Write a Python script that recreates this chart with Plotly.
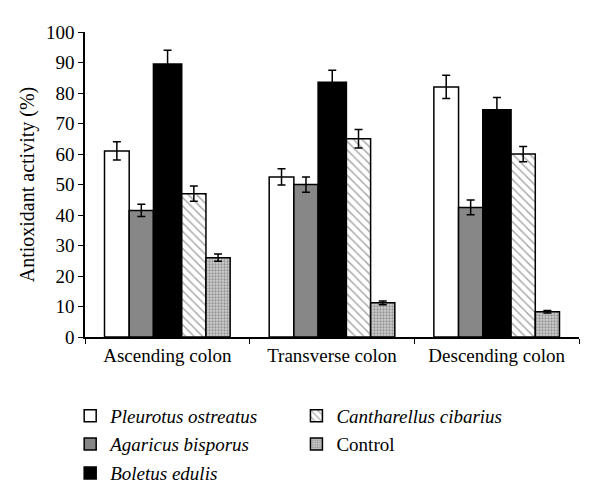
import plotly.graph_objects as go

categories = ["Ascending colon", "Transverse colon", "Descending colon"]
series_names = ["Pleurotus ostreatus", "Agaricus bisporus", "Boletus edulis",
                "Cantharellus cibarius", "Control"]
pleurotus = [61, 52.5, 82]
pleurotus_err = [3, 2.7, 3.8]
agaricus = [41.5, 50, 42.5]
agaricus_err = [2, 2.5, 2.4]
boletus = [89.5, 83.5, 74.5]
boletus_err = [4.5, 4, 4]
cantharellus = [47, 65, 60]
cantharellus_err = [2.5, 3, 2.5]
control = [26, 11.2, 8.3]
control_err = [1.2, 0.6, 0.4]
y_ticks = [0, 10, 20, 30, 40, 50, 60, 70, 80, 90, 100]

values = [pleurotus, agaricus, boletus, cantharellus, control]
errors = [pleurotus_err, agaricus_err, boletus_err, cantharellus_err, control_err]
labels = ["<i>Pleurotus ostreatus</i>", "<i>Agaricus bisporus</i>", "<i>Boletus edulis</i>",
          "<i>Cantharellus cibarius</i>", "Control"]
styles = [
    dict(color="white"),
    dict(color="#878787"),
    dict(color="black"),
    dict(color="white", pattern=dict(shape="\\", fgcolor="#555555", bgcolor="white",
                                     size=6, solidity=0.25)),
    dict(color="#c0c0c0", pattern=dict(shape=".", fgcolor="#5a5a5a", bgcolor="#cfcfcf",
                                       size=3, solidity=0.45)),
]
bar_widths = [0.150, 0.147, 0.172, 0.147, 0.147]
legend_pos = [(-0.03, -0.259), (-0.03, -0.351), (-0.03, -0.446),
              (0.428, -0.259), (0.428, -0.351)]
legend_ids = ["legend", "legend2", "legend3", "legend4", "legend5"]

fig = go.Figure()
start = -sum(bar_widths) / 2
for i in range(5):
    fig.add_trace(go.Bar(
        x=categories, y=values[i], name=labels[i],
        width=bar_widths[i], offset=start,
        marker=dict(**styles[i], line=dict(color="black", width=1.5)),
        error_y=dict(type="data", array=errors[i], color="black", thickness=1.5, width=4),
        legend=legend_ids[i],
    ))
    start += bar_widths[i]

font_family = "Liberation Serif, Times New Roman, serif"
layout_legends = {}
for lid, (lx, ly) in zip(legend_ids, legend_pos):
    layout_legends[lid] = dict(x=lx, y=ly, xanchor="left", yanchor="middle",
                               font=dict(family=font_family, size=19, color="black"),
                               bgcolor="rgba(0,0,0,0)")

fig.update_layout(
    width=600, height=496,
    margin=dict(l=77, r=29, t=24, b=167, autoexpand=False),
    plot_bgcolor="white", paper_bgcolor="white",
    barmode="overlay",
    font=dict(family=font_family, size=18, color="black"),
    showlegend=True,
    **layout_legends,
)
fig.update_yaxes(range=[0, 100], tickvals=y_ticks, showgrid=False, zeroline=False,
                 showline=True, linecolor="black", linewidth=1.5,
                 ticks="outside", ticklen=5, tickcolor="black", automargin=False,
                 title=dict(text="Antioxidant activity (%)", standoff=6, font=dict(size=20)),
                 tickfont=dict(size=19))
fig.update_xaxes(showgrid=False, showline=True, linecolor="black", linewidth=1.5,
                 ticks="outside", tickson="boundaries", ticklen=5, tickcolor="black",
                 automargin=False, tickfont=dict(size=19))

fig.write_html("out.html")
